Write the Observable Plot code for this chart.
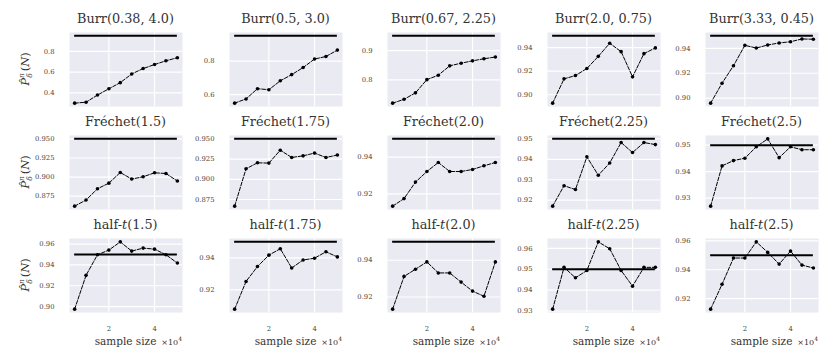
<!DOCTYPE html>
<html><head><meta charset="utf-8">
<script src="https://cdn.jsdelivr.net/npm/d3@7"></script>
<script src="https://cdn.jsdelivr.net/npm/@observablehq/plot@0.6"></script>
<style>
html,body{margin:0;padding:0;background:#fff;}
#chart{position:relative;width:831px;height:360px;overflow:hidden;background:#fff;}
#chart svg{position:absolute;overflow:visible;}
</style></head><body><div id="chart"></div>
<script>
// ---------- data ----------
const sampleSizes = [5000, 10000, 15000, 20000, 25000, 30000, 35000, 40000, 45000, 50000];
const targetLevel = 0.95;

const families = ["Burr", "Burr", "Burr", "Burr", "Burr",
  "Fréchet", "Fréchet", "Fréchet", "Fréchet", "Fréchet",
  "half-t", "half-t", "half-t", "half-t", "half-t"];
const params = ["(0.38, 4.0)", "(0.5, 3.0)", "(0.67, 2.25)", "(2.0, 0.75)", "(3.33, 0.45)",
  "(1.5)", "(1.75)", "(2.0)", "(2.25)", "(2.5)",
  "(1.5)", "(1.75)", "(2.0)", "(2.25)", "(2.5)"];

const burr_038_40 = [0.300, 0.309, 0.378, 0.439, 0.498, 0.582, 0.634, 0.673, 0.709, 0.739];
const burr_05_30 = [0.549, 0.574, 0.635, 0.629, 0.682, 0.719, 0.761, 0.812, 0.827, 0.865];
const burr_067_225 = [0.721, 0.734, 0.756, 0.801, 0.816, 0.848, 0.857, 0.865, 0.872, 0.878];
const burr_20_075 = [0.8929, 0.9135, 0.9163, 0.9223, 0.9326, 0.9437, 0.9366, 0.9152, 0.9349, 0.9398];
const burr_333_045 = [0.896, 0.912, 0.926, 0.9424, 0.9402, 0.9427, 0.9443, 0.9453, 0.9475, 0.9473];
const frechet_15 = [0.862, 0.870, 0.8847, 0.8921, 0.906, 0.8974, 0.9004, 0.9056, 0.9047, 0.8948];
const frechet_175 = [0.8668, 0.913, 0.9204, 0.920, 0.936, 0.927, 0.929, 0.9324, 0.927, 0.930];
const frechet_20 = [0.9133, 0.9174, 0.9264, 0.9322, 0.9371, 0.9322, 0.9322, 0.9333, 0.9353, 0.9371];
const frechet_225 = [0.9171, 0.9271, 0.9252, 0.9412, 0.9322, 0.9382, 0.9482, 0.9433, 0.9482, 0.9472];
const frechet_25 = [0.927, 0.9422, 0.9442, 0.9451, 0.9494, 0.9524, 0.9453, 0.9494, 0.9483, 0.9483];
const halft_15 = [0.8975, 0.930, 0.9498, 0.9543, 0.9622, 0.9533, 0.9562, 0.9552, 0.9498, 0.9418];
const halft_175 = [0.908, 0.9253, 0.9346, 0.9417, 0.9457, 0.9337, 0.9387, 0.9398, 0.9438, 0.9406];
const halft_20 = [0.9134, 0.9312, 0.9351, 0.9391, 0.9331, 0.9331, 0.9281, 0.9232, 0.9204, 0.9391];
const halft_225 = [0.9309, 0.9509, 0.9459, 0.9494, 0.9631, 0.9598, 0.9494, 0.9419, 0.9509, 0.9509];
const halft_25 = [0.9127, 0.9299, 0.9481, 0.9481, 0.9593, 0.952, 0.9439, 0.9529, 0.9432, 0.9412];

const series = [burr_038_40, burr_05_30, burr_067_225, burr_20_075, burr_333_045,
  frechet_15, frechet_175, frechet_20, frechet_225, frechet_25,
  halft_15, halft_175, halft_20, halft_225, halft_25];

const yTickLabels = [
  ["0.4", "0.6", "0.8"], ["0.6", "0.8"], ["0.8", "0.9"], ["0.90", "0.92", "0.94"], ["0.90", "0.92", "0.94"],
  ["0.875", "0.900", "0.925", "0.950"], ["0.875", "0.900", "0.925", "0.950"], ["0.92", "0.94"],
  ["0.92", "0.93", "0.94", "0.95"], ["0.93", "0.94", "0.95"],
  ["0.90", "0.92", "0.94", "0.96"], ["0.92", "0.94"], ["0.92", "0.94"],
  ["0.93", "0.94", "0.95", "0.96"], ["0.92", "0.94", "0.96"]
];
const xTickLabels = ["2", "4"];
const xScaleExp = 4; // sample size × 10^4

// ---------- layout ----------
const colLeft = [69, 229, 387, 547, 705];
const rowTop = [32, 135, 238];
const frameW = 113, frameH = 74;
const ML = 50, MT = 30, MR = 4;
const serif = "DejaVu Serif";
const chart = document.getElementById("chart");

const xs = sampleSizes.map(s => s / Math.pow(10, xScaleExp));
const xPad = 0.05 * (xs[xs.length - 1] - xs[0]);
const xDomain = [xs[0] - xPad, xs[xs.length - 1] + xPad];
const xTicks = xTickLabels.map(Number);

series.forEach((vals, k) => {
  const row = Math.floor(k / 5), col = k % 5;
  const data = vals.map((v, i) => ({x: xs[i], y: v}));
  const lo = Math.min(...vals, targetLevel), hi = Math.max(...vals, targetLevel);
  const yPad = 0.05 * (hi - lo);
  const yTicks = yTickLabels[k].map(Number);
  const yFmt = new Map(yTickLabels[k].map(s => [Number(s), s]));
  const MB = row === 2 ? 40 : 4;
  const marks = [
    Plot.frame({fill: "#EAEAF2", stroke: null}),
    Plot.gridY(yTicks, {stroke: "#fff", strokeOpacity: 1, strokeWidth: 1.2}),
    Plot.gridX(xTicks, {stroke: "#fff", strokeOpacity: 1, strokeWidth: 1.2}),
    Plot.axisY(yTicks, {tickSize: 0, tickPadding: 15, tickFormat: d => yFmt.get(d), fontSize: 6.8, fill: "#444", label: null}),
    Plot.ruleY([{y: targetLevel, x1: xs[0], x2: xs[xs.length - 1]}], {y: "y", x1: "x1", x2: "x2", stroke: "#000", strokeWidth: 2}),
    Plot.line(data, {x: "x", y: "y", stroke: "#000", strokeWidth: 1, strokeDasharray: "3.7,1.6"}),
    Plot.dot(data, {x: "x", y: "y", r: 1.8, fill: "#000", stroke: null})
  ];
  if (row === 2) {
    marks.push(Plot.axisX(xTicks, {tickSize: 0, tickPadding: 14, tickFormat: d => xTickLabels[xTicks.indexOf(d)], fontSize: 6.8, fill: "#444", label: null}));
  }
  const svg = Plot.plot({
    width: ML + frameW + MR, height: MT + frameH + MB,
    marginLeft: ML, marginTop: MT, marginRight: MR, marginBottom: MB,
    x: {domain: xDomain, axis: null},
    y: {domain: [lo - yPad, hi + yPad], axis: null},
    style: {overflow: "visible", fontFamily: serif, background: "transparent"},
    marks
  });
  svg.style.left = (colLeft[col] - ML) + "px";
  svg.style.top = (rowTop[row] - MT) + "px";
  chart.appendChild(svg);
});

// ---------- text overlay (titles, axis labels) ----------
const overlay = d3.select(chart).append("svg")
  .attr("width", 831).attr("height", 360)
  .style("left", "0px").style("top", "0px")
  .style("pointer-events", "none")
  .style("font-family", serif);

series.forEach((vals, k) => {
  const row = Math.floor(k / 5), col = k % 5;
  const t = overlay.append("text")
    .attr("x", colLeft[col] + frameW / 2).attr("y", rowTop[row] - 9)
    .attr("text-anchor", "middle").attr("font-size", 12.8).attr("fill", "#333");
  if (families[k] === "half-t") {
    t.append("tspan").text("half-");
    t.append("tspan").attr("font-style", "italic").text("t");
    t.append("tspan").text(params[k]);
  } else {
    t.text(families[k] + params[k]);
  }
});

rowTop.forEach(top => {
  const yl = overlay.append("text")
    .attr("transform", `translate(29,${top + frameH / 2}) rotate(-90)`)
    .attr("text-anchor", "middle").attr("font-size", 11.5).attr("fill", "#333");
  yl.append("tspan").attr("font-style", "italic").text("P\u0302");
  yl.append("tspan").attr("font-style", "italic").attr("font-size", 7.5).attr("dy", -5).text("n");
  yl.append("tspan").attr("font-style", "italic").attr("font-size", 7.5).attr("dx", -4.5).attr("dy", 8).text("δ");
  yl.append("tspan").attr("dy", -3).attr("dx", 2).text("(");
  yl.append("tspan").attr("font-style", "italic").text("N");
  yl.append("tspan").text(")");
});

colLeft.forEach(left => {
  const base = rowTop[2] + frameH + 33;
  overlay.append("text")
    .attr("x", left + frameW / 2).attr("y", base)
    .attr("text-anchor", "middle").attr("font-size", 10.5).attr("fill", "#333")
    .text("sample size");
  const off = overlay.append("text")
    .attr("x", left + frameW).attr("y", base)
    .attr("text-anchor", "end").attr("font-size", 8).attr("fill", "#333");
  off.append("tspan").text("×10");
  off.append("tspan").attr("font-size", 6).attr("dy", -4).text(String(xScaleExp));
});
</script></body></html>
